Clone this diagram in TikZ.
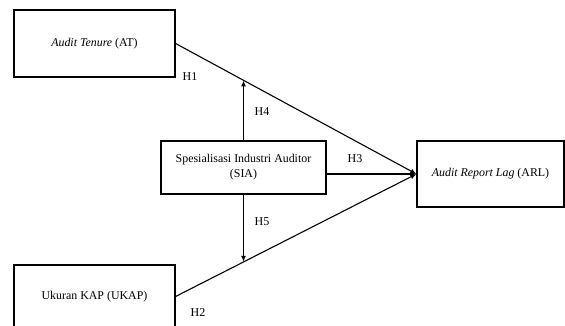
\documentclass[tikz,border=0pt]{standalone}
\usepackage{fontspec}
\setmainfont{Liberation Serif}
\usetikzlibrary{calc}
\usetikzlibrary{arrows.meta}
\tikzset{var/.style={draw=black, line width=1.2pt, inner sep=2pt, align=center, font=\fontsize{11.9}{15}\selectfont},
	hyp/.style={font=\fontsize{12}{13}\selectfont},
	link/.style={-{Latex[length=6pt,width=5pt]}, line width=1.1pt}}

\begin{document}
\begin{tikzpicture}[x=1pt,y=-1pt]
	\useasboundingbox (0,0) rectangle (565,326);
	\node[var, minimum width=161pt, minimum height=67pt] (at) at (94.5,43.5) {\textit{Audit Tenure} (AT)};
	\node[var, minimum width=165pt, minimum height=53pt] (sia) at (243.5,167.5) {Spesialisasi Industri Auditor\\(SIA)};
	\node[var, minimum width=147pt, minimum height=66pt] (arl) at (490.5,174) {\textit{Audit Report Lag} (ARL)};
	\node[var, minimum width=161pt, minimum height=63pt] (ukap) at (94.5,296.5) {Ukuran KAP (UKAP)};
	\coordinate (mAT) at ($(at.east)!0.283!(arl.west)$);
	\coordinate (mUK) at ($(ukap.east)!0.283!(arl.west)$);
	\draw[link] (at.east) -- (arl.west);
	\draw[link] (ukap.east) -- (arl.west);
	\draw[link] (sia.east |- arl.west) -- (arl.west);
	\draw[link] (sia.north) -- (sia.north |- mAT);
	\draw[link] (sia.south) -- (sia.south |- mUK);
	\node[hyp] (h1) at (190,77) {H1};
	\node[hyp] (h4) at (262,112) {H4};
	\node[hyp] (h3) at (355,159) {H3};
	\node[hyp] (h5) at (262,222) {H5};
	\node[hyp] (h2) at (198,313) {H2};
\end{tikzpicture}
\end{document}
